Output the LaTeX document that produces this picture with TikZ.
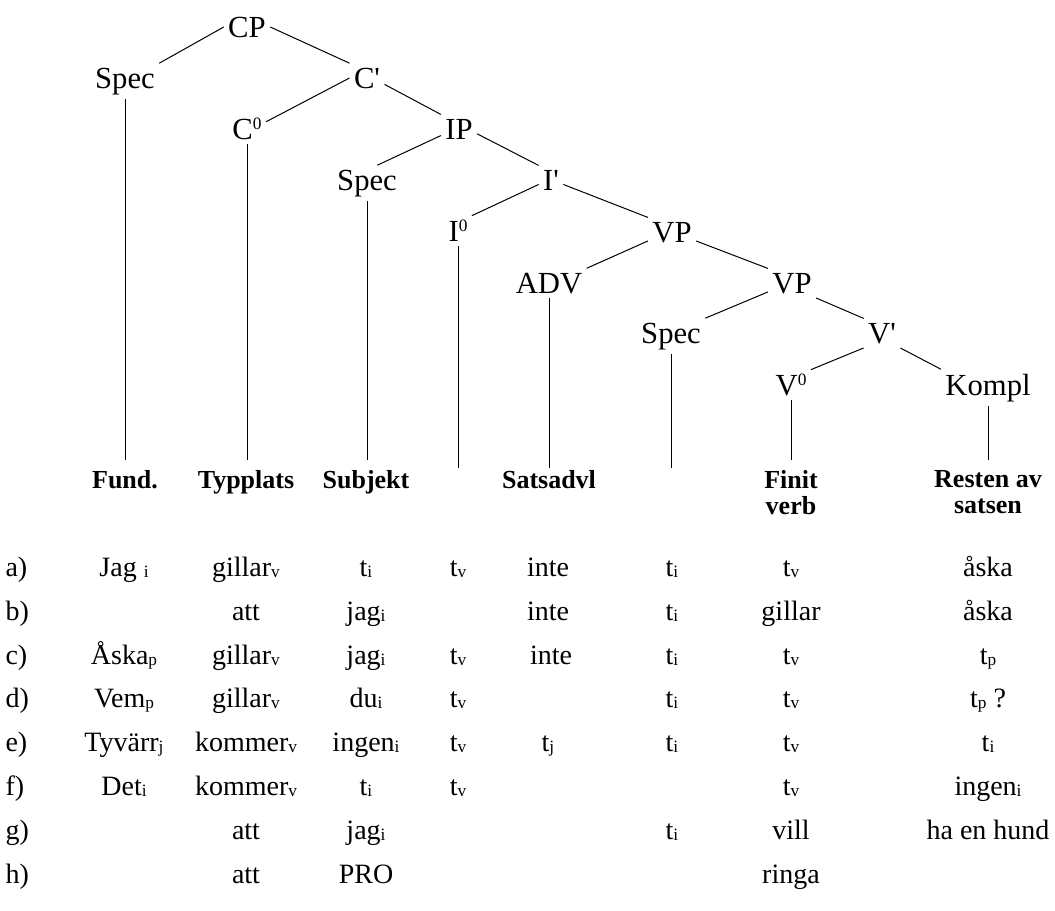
\documentclass[tikz,border=0pt]{standalone}
\usepackage{fontspec}
\setmainfont{Liberation Serif}
\usepackage{tikz}

\newcommand{\ix}[1]{\raisebox{-0.15ex}{\fontsize{13}{13}\selectfont #1}}
\newcommand{\nul}{\raisebox{7pt}{\fontsize{13}{13}\selectfont 0}}
\newcommand{\pr}{\textquotesingle}

\begin{document}
\begin{tikzpicture}[x=0.75pt, y=-0.75pt, line width=0.75pt,
    cat/.style={anchor=base, inner sep=3pt, font=\fontsize{23}{27}\selectfont},
    head/.style={anchor=north, inner sep=3pt, align=center, font=\fontsize{19.5}{19.5}\selectfont\bfseries},
    word/.style={anchor=base, inner sep=3pt, font=\fontsize{21}{26}\selectfont},
    lab/.style={anchor=base west, inner sep=0pt, font=\fontsize{21}{26}\selectfont}]

    \useasboundingbox (0,0) rectangle (1055,910);

    % the tree
    \node[cat] (cp) at (247, 37) {CP};
    \node[cat] (spec1) at (125, 88) {Spec};
    \node[cat] (cbar) at (367, 88) {C\pr};
    \node[cat] (c0) at (247, 139) {C\nul};
    \node[cat] (ip) at (459, 139) {IP};
    \node[cat] (spec2) at (367, 190) {Spec};
    \node[cat] (ibar) at (551, 190) {I\pr};
    \node[cat] (i0) at (458, 241) {I\nul};
    \node[cat] (vp1) at (672, 242) {VP};
    \node[cat] (adv) at (549, 293) {ADV};
    \node[cat] (vp2) at (792, 293) {VP};
    \node[cat] (spec3) at (671, 343) {Spec};
    \node[cat] (vbar) at (882, 343) {V\pr};
    \node[cat] (v0) at (791, 395) {V\nul};
    \node[cat] (kompl) at (988, 395) {Kompl};

    \draw (cp.west) -- (spec1.north east);
    \draw (cp.east) -- (cbar.north west);
    \draw (cbar.west) -- (c0.20);
    \draw (cbar.-20) -- (ip.north west);
    \draw (ip.200) -- (spec2.60);
    \draw (ip.-15) -- (ibar.north west);
    \draw (ibar.200) -- (i0.north east);
    \draw (ibar.-20) -- (vp1.north west);
    \draw (vp1.200) -- (adv.north east);
    \draw (vp1.-20) -- (vp2.north west);
    \draw (vp2.200) -- (spec3.north east);
    \draw (vp2.south east) -- (vbar.north west);
    \draw (vbar.south west) -- (v0.north east);
    \draw (vbar.south east) -- (kompl.north west);

    % down to the fields
    \coordinate (bot) at (0, 460);
    \coordinate (botlow) at (0, 468);
    \draw (spec1.south) -- (spec1.south |- bot);
    \draw (c0.south) -- (c0.south |- bot);
    \draw (spec2.south) -- (spec2.south |- bot);
    \draw (i0.south) -- (i0.south |- botlow);
    \draw (adv.south) -- (adv.south |- botlow);
    \draw (spec3.south) -- (spec3.south |- botlow);
    \draw (v0.south) -- (v0.south |- bot);
    \draw (kompl.south) -- (kompl.south |- bot);

    \node[head] (hfund) at (125, 466) {Fund.};
    \node[head] (htyp) at (246, 466) {Typplats};
    \node[head] (hsubj) at (366, 466) {Subjekt};
    \node[head] (hadv) at (549, 466) {Satsadvl};
    \node[head] (hfin) at (791, 466) {Finit\\verb};
    \node[head] (hrest) at (988, 466) {Resten av\\satsen};

    % a)
    \node[lab] (la) at (5, 576) {a)};
    \node[word] (a1) at (124, 576) {Jag \ix{i}};
    \node[word] (a2) at (246, 576) {gillar\ix{v}};
    \node[word] (a3) at (366, 576) {t\ix{i}};
    \node[word] (a4) at (458, 576) {t\ix{v}};
    \node[word] (a5) at (548, 576) {inte};
    \node[word] (a6) at (672, 576) {t\ix{i}};
    \node[word] (a7) at (791, 576) {t\ix{v}};
    \node[word] (a8) at (988, 576) {åska};

    % b)
    \node[lab] (lb) at (5, 620) {b)};
    \node[word] (b2) at (246, 620) {att};
    \node[word] (b3) at (366, 620) {jag\ix{i}};
    \node[word] (b5) at (548, 620) {inte};
    \node[word] (b6) at (672, 620) {t\ix{i}};
    \node[word] (b7) at (791, 620) {gillar};
    \node[word] (b8) at (988, 620) {åska};

    % c)
    \node[lab] (lc) at (5, 664) {c)};
    \node[word] (c1) at (124, 664) {Åska\ix{p}};
    \node[word] (c2) at (246, 664) {gillar\ix{v}};
    \node[word] (c3) at (366, 664) {jag\ix{i}};
    \node[word] (c4) at (458, 664) {t\ix{v}};
    \node[word] (c5) at (551, 664) {inte};
    \node[word] (c6) at (672, 664) {t\ix{i}};
    \node[word] (c7) at (791, 664) {t\ix{v}};
    \node[word] (c8) at (988, 664) {t\ix{p}};

    % d)
    \node[lab] (ld) at (5, 707) {d)};
    \node[word] (d1) at (124, 707) {Vem\ix{p}};
    \node[word] (d2) at (246, 707) {gillar\ix{v}};
    \node[word] (d3) at (366, 707) {du\ix{i}};
    \node[word] (d4) at (458, 707) {t\ix{v}};
    \node[word] (d6) at (672, 707) {t\ix{i}};
    \node[word] (d7) at (791, 707) {t\ix{v}};
    \node[word] (d8) at (988, 707) {t\ix{p} ?};

    % e)
    \node[lab] (le) at (5, 751) {e)};
    \node[word] (e1) at (124, 751) {Tyvärr\ix{j}};
    \node[word] (e2) at (246, 751) {kommer\ix{v}};
    \node[word] (e3) at (366, 751) {ingen\ix{i}};
    \node[word] (e4) at (458, 751) {t\ix{v}};
    \node[word] (e5) at (548, 751) {t\ix{j}};
    \node[word] (e6) at (672, 751) {t\ix{i}};
    \node[word] (e7) at (791, 751) {t\ix{v}};
    \node[word] (e8) at (988, 751) {t\ix{i}};

    % f)
    \node[lab] (lf) at (5, 795) {f)};
    \node[word] (f1) at (124, 795) {Det\ix{i}};
    \node[word] (f2) at (246, 795) {kommer\ix{v}};
    \node[word] (f3) at (366, 795) {t\ix{i}};
    \node[word] (f4) at (458, 795) {t\ix{v}};
    \node[word] (f7) at (791, 795) {t\ix{v}};
    \node[word] (f8) at (988, 795) {ingen\ix{i}};

    % g)
    \node[lab] (lg) at (5, 839) {g)};
    \node[word] (g2) at (246, 839) {att};
    \node[word] (g3) at (366, 839) {jag\ix{i}};
    \node[word] (g6) at (672, 839) {t\ix{i}};
    \node[word] (g7) at (791, 839) {vill};
    \node[word] (g8) at (988, 839) {ha en hund};

    % h)
    \node[lab] (lh) at (5, 883) {h)};
    \node[word] (h2) at (246, 883) {att};
    \node[word] (h3) at (366, 883) {PRO};
    \node[word] (h7) at (791, 883) {ringa};

\end{tikzpicture}
\end{document}
